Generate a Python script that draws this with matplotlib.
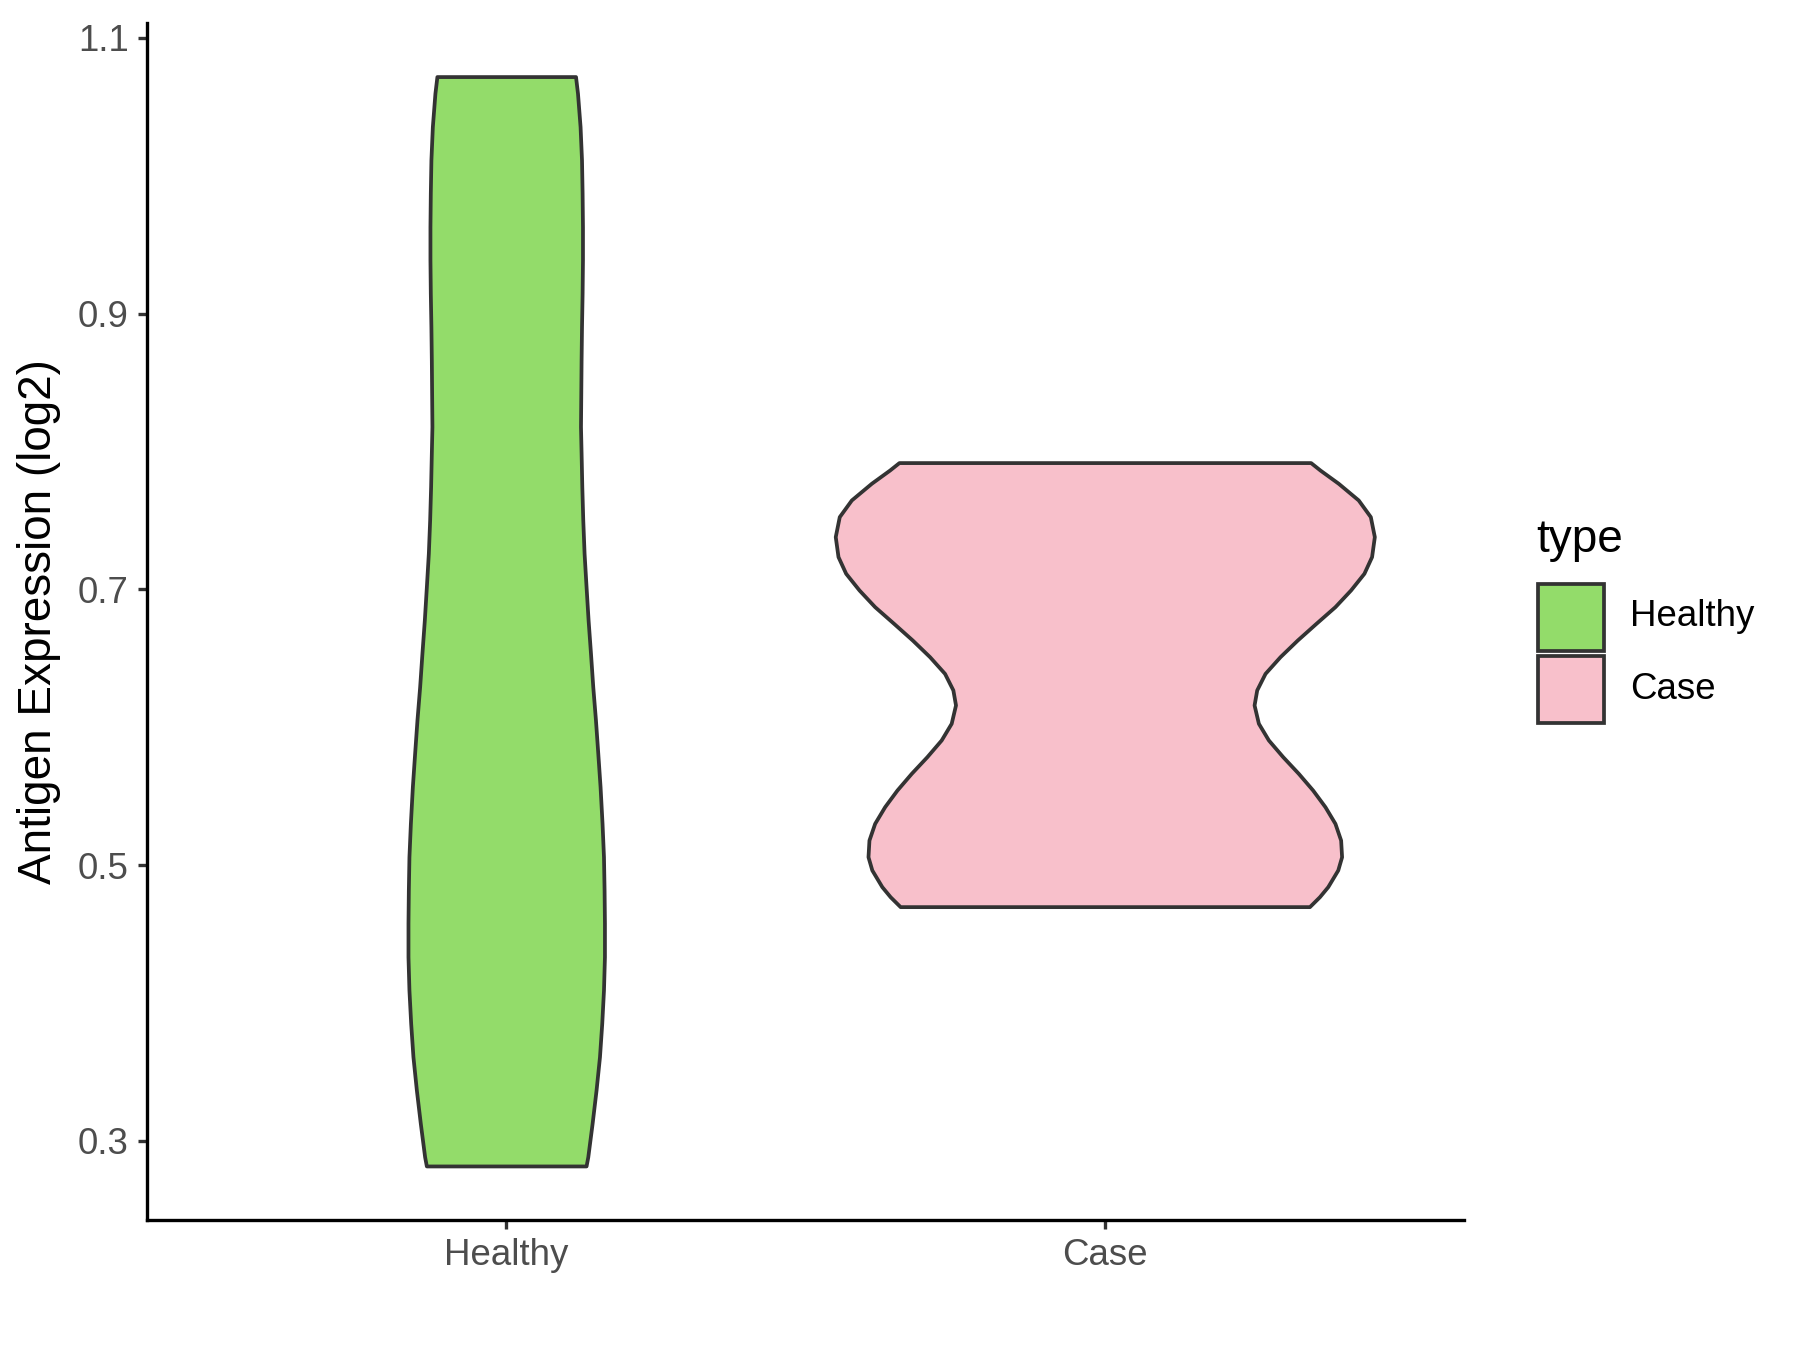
import numpy as np
import matplotlib
matplotlib.use("Agg")
import matplotlib.pyplot as plt
from matplotlib.patches import Rectangle

plt.rcParams['font.family'] = ['Liberation Sans', 'DejaVu Sans']

# groups and fill colours
groups = ['Healthy', 'Case']
colors = ['#93DC6A', '#F8C0CB']

# violin outlines: expression value and half width (x units)
healthy_y = [1.0719, 1.0598, 1.0356, 1.0114, 0.9873, 0.9630, 0.9389, 0.9147,
             0.8905, 0.8663, 0.8422, 0.8180, 0.7987, 0.7744, 0.7503, 0.7261,
             0.7019, 0.6777, 0.6536, 0.6294, 0.6052, 0.5810, 0.5568, 0.5302,
             0.5060, 0.4819, 0.4577, 0.4335, 0.4093, 0.3852, 0.3609, 0.3368,
             0.3126, 0.2884, 0.2817]
healthy_w = [0.1158, 0.1191, 0.1234, 0.1258, 0.1268, 0.1274, 0.1274, 0.1268,
             0.1258, 0.1251, 0.1246, 0.1241, 0.1251, 0.1263, 0.1279, 0.1301,
             0.1334, 0.1368, 0.1408, 0.1446, 0.1491, 0.1530, 0.1568, 0.1601,
             0.1625, 0.1635, 0.1641, 0.1641, 0.1625, 0.1596, 0.1558, 0.1501,
             0.1435, 0.1363, 0.1334]

case_y = [0.7919, 0.7865, 0.7769, 0.7648, 0.7527, 0.7382, 0.7237, 0.7116,
          0.6995, 0.6874, 0.6753, 0.6632, 0.6511, 0.6390, 0.6270, 0.6161,
          0.6028, 0.5907, 0.5786, 0.5665, 0.5544, 0.5423, 0.5302, 0.5181,
          0.5060, 0.4964, 0.4843, 0.4770, 0.4698]
case_w = [0.3439, 0.3595, 0.3900, 0.4234, 0.4436, 0.4503, 0.4457, 0.4329,
          0.4106, 0.3845, 0.3528, 0.3216, 0.2927, 0.2677, 0.2538, 0.2494,
          0.2566, 0.2733, 0.2972, 0.3233, 0.3472, 0.3678, 0.3845, 0.3940,
          0.3956, 0.3892, 0.3725, 0.3586, 0.3419]

yticks = [0.3, 0.5, 0.7, 0.9, 1.1]

fig = plt.figure(figsize=(6, 4.5), dpi=300)
ax = fig.add_axes([0.0817, 0.0963, 0.7316, 0.8867])

profiles = [(healthy_y, healthy_w), (case_y, case_w)]
for i, (yy, ww) in enumerate(profiles):
    pos = i + 1
    yy = np.array(yy)
    ww = np.array(ww)
    ax.fill_betweenx(yy, pos - ww, pos + ww, facecolor=colors[i],
                     edgecolor='#333333', linewidth=0.9, zorder=2)

ax.set_xlim(0.4, 2.6)
ax.set_ylim(0.2425, 1.1108)
ax.set_xticks([1, 2])
ax.set_xticklabels(groups)
ax.set_yticks(yticks)
ax.set_yticklabels([f'{t:.1f}' for t in yticks])

for s in ['top', 'right']:
    ax.spines[s].set_visible(False)
for s in ['left', 'bottom']:
    ax.spines[s].set_linewidth(0.8)
    ax.spines[s].set_color('black')
ax.tick_params(axis='both', length=2.2, width=0.8, color='#333333',
               labelcolor='#4D4D4D', labelsize=8.8, pad=2.2)

ax.set_ylabel('Antigen Expression (log2)', fontsize=11, color='black')
ax.yaxis.set_label_coords(-0.065, 0.5)

# legend drawn by hand in figure coordinates
fig.text(0.8533, 0.600, 'type', fontsize=11, ha='left', va='center')
key_y = [0.5178, 0.4644]
lab_y = [0.543, 0.489]
for i, g in enumerate(groups):
    fig.add_artist(Rectangle((0.8544, key_y[i]), 0.0367, 0.0496,
                             transform=fig.transFigure, facecolor=colors[i],
                             edgecolor='#333333', linewidth=0.9))
    fig.text(0.9056, lab_y[i], g, fontsize=8.8, ha='left', va='center')

fig.savefig('out.png', dpi=300)
